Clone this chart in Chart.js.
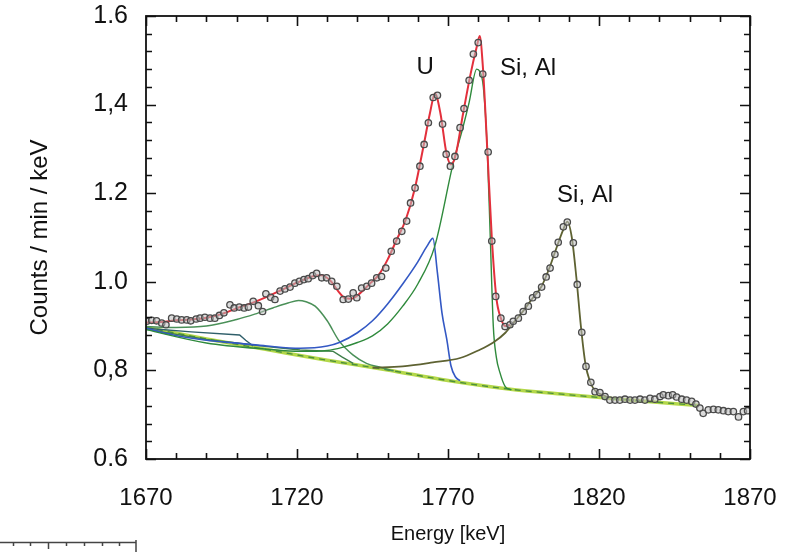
<!DOCTYPE html>
<html>
<head>
<meta charset="utf-8">
<script src="https://cdn.jsdelivr.net/npm/chart.js@4.4.1/dist/chart.umd.min.js"></script>
<style>
  html, body { margin: 0; padding: 0; background: #fff; }
  #wrap { position: relative; width: 798px; height: 552px; }
  #c { position: absolute; left: 0; top: 0; }
  #ruler { position: absolute; left: 0; top: 536px; }
</style>
</head>
<body>
<div id="wrap">
  <canvas id="c" width="798" height="552"></canvas>
  <canvas id="ruler" width="140" height="16"></canvas>
</div>
<script>
// ---------------- data ----------------
const energy = [1670.2,1671.9,1673.5,1675.2,1676.6,1678.5,1680.2,1681.8,1683.5,1684.8,1686.6,1687.9,1689.5,1691.2,1692.8,1694.3,1695.8,1697.8,1699.2,1700.9,1702.5,1703.9,1705.5,1707.2,1708.6,1709.7,1711.3,1712.7,1714.4,1716.0,1717.7,1719.3,1720.8,1722.3,1723.7,1725.2,1726.5,1728.2,1729.8,1731.5,1733.2,1735.3,1737.0,1738.6,1739.8,1741.4,1743.1,1744.7,1746.4,1748.0,1749.4,1751.2,1753.0,1754.7,1756.3,1757.6,1759.1,1760.7,1762.1,1763.5,1765.1,1766.5,1768.2,1769.4,1770.8,1772.3,1774.0,1775.3,1777.0,1778.4,1780.0,1781.5,1783.3,1784.5,1785.8,1787.5,1788.9,1790.5,1791.6,1793.3,1794.9,1796.6,1798.0,1799.4,1801.0,1802.5,1803.8,1805.4,1806.5,1808.2,1809.5,1811.5,1812.8,1814.3,1815.7,1817.3,1818.7,1820.3,1822.0,1823.6,1825.3,1826.9,1828.6,1830.3,1831.9,1833.6,1835.2,1836.9,1838.5,1840.2,1841.3,1843.0,1844.4,1845.7,1847.4,1849.0,1850.7,1852.1,1853.4,1854.5,1856.2,1857.9,1859.5,1861.2,1862.8,1864.5,1866.2,1867.8,1869.2];
const counts = [0.911,0.913,0.912,0.907,0.903,0.918,0.916,0.914,0.914,0.912,0.916,0.918,0.920,0.918,0.918,0.924,0.930,0.948,0.941,0.943,0.941,0.943,0.956,0.946,0.933,0.973,0.965,0.960,0.979,0.984,0.988,0.997,1.001,1.005,1.007,1.014,1.019,1.009,1.009,1.001,0.990,0.960,0.961,0.975,0.964,0.986,0.990,0.997,1.009,1.012,1.031,1.069,1.092,1.114,1.137,1.178,1.212,1.261,1.310,1.359,1.416,1.421,1.356,1.288,1.261,1.283,1.348,1.391,1.455,1.514,1.540,1.469,1.293,1.092,0.967,0.918,0.899,0.903,0.911,0.918,0.933,0.945,0.964,0.971,0.988,1.011,1.031,1.062,1.089,1.124,1.135,1.088,0.994,0.886,0.809,0.773,0.752,0.750,0.741,0.733,0.733,0.733,0.735,0.733,0.733,0.735,0.733,0.737,0.735,0.741,0.745,0.743,0.745,0.740,0.735,0.733,0.730,0.724,0.715,0.703,0.711,0.712,0.711,0.709,0.707,0.707,0.695,0.707,0.709];

// total fit (red)
const totalE = [1670,1675,1680,1685,1690,1695,1700,1705,1710,1715,1720,1725,1728,1731,1733.5,1736,1738,1741,1744,1747,1750,1753,1756,1759,1762,1764,1765.7,1767.5,1769.5,1771,1772.5,1775,1777.5,1779.5,1780.5,1781.5,1783,1784.5,1786,1787.5,1789,1790.5];
const totalV = [0.908,0.909,0.913,0.915,0.919,0.927,0.940,0.952,0.966,0.982,0.998,1.012,1.015,1.003,0.980,0.963,0.962,0.975,0.995,1.015,1.050,1.095,1.140,1.210,1.310,1.380,1.425,1.380,1.290,1.265,1.285,1.380,1.470,1.530,1.555,1.490,1.300,1.100,0.965,0.918,0.900,0.903];

// background (yellow-green)
const baselineE = [1670,1690,1710,1730,1750,1770,1790,1810,1830,1853];
const baselineV = [0.897,0.871,0.847,0.823,0.801,0.777,0.758,0.745,0.733,0.721];

// component at 1720 keV (green)
const peak1720E = [1670,1680,1690,1700,1706,1712,1717,1720.5,1723,1726,1730,1734,1738.5,1743,1747.5,1752];
const peak1720V = [0.899,0.897,0.900,0.915,0.927,0.941,0.952,0.958,0.955,0.945,0.912,0.866,0.835,0.816,0.807,0.799];

// step under the low-energy part (dark blue-green)
const stepAE = [1670,1685,1701,1703,1705.5];
const stepAV = [0.895,0.887,0.880,0.868,0.855];

// step under the 1720 keV region (green)
const stepBE = [1670,1690,1710,1721,1732,1735,1738.6];
const stepBV = [0.893,0.870,0.854,0.846,0.843,0.830,0.816];

// U component at 1765 keV (blue)
const peakUE = [1670,1679,1690,1701,1710,1721,1730,1734,1740,1745,1750,1755,1760,1763,1765,1766.5,1768,1769.6,1771,1772.5,1774];
const peakUV = [0.895,0.880,0.868,0.861,0.855,0.850,0.855,0.863,0.885,0.912,0.950,0.995,1.045,1.080,1.098,1.020,0.930,0.870,0.810,0.785,0.777];

// Si, Al component at 1780 keV (green)
const peak1780E = [1670,1690,1710,1721,1730,1735,1740,1745,1750,1755,1760,1765.6,1771.8,1775,1777,1779.5,1780.5,1781.7,1783,1784,1785,1786,1787.2,1788.9,1791];
const peak1780V = [0.892,0.862,0.848,0.843,0.845,0.852,0.863,0.878,0.905,0.945,0.995,1.080,1.270,1.350,1.405,1.480,1.475,1.440,1.300,1.100,0.900,0.830,0.795,0.764,0.756];

// Si, Al component at 1808 keV (olive)
const peak1808E = [1745,1755,1765,1774,1780,1785,1789,1792,1795,1798,1801,1803.5,1806,1808,1809.5,1811,1812.5,1814,1815.5,1817,1819,1821,1823];
const peak1808V = [0.806,0.809,0.818,0.828,0.845,0.863,0.885,0.910,0.935,0.963,0.990,1.030,1.078,1.115,1.136,1.100,1.010,0.900,0.815,0.775,0.752,0.745,0.740];

// axis ticks and annotation texts
const xTickValues = [1670,1720,1770,1820,1870];
const xTickLabels = ["1670","1720","1770","1820","1870"];
const yTickValues = [0.6,0.8,1.0,1.2,1.4,1.6];
const yTickLabels = ["0.6","0,8","1.0","1.2","1,4","1.6"];
const peakLabels = ["U","Si, Al","Si, Al"];
const peakLabelE = [1762.4,1796.5,1815.4];
const peakLabelV = [1.485,1.482,1.195];

// -----------------------------------------------------------------------
function pts(xs, ys) { return xs.map((x, i) => ({x: x, y: ys[i]})); }
const FONT = "'Liberation Sans', Arial, sans-serif";

function lineDs(label, xs, ys, color, width, extra) {
  return Object.assign({
    label, data: pts(xs, ys), showLine: true, borderColor: color,
    backgroundColor: color, borderWidth: width, pointRadius: 0,
    cubicInterpolationMode: 'monotone', fill: false
  }, extra || {});
}

const frameTicks = {
  id: 'frameTicks',
  afterDraw(chart) {
    const {ctx, chartArea: a, scales: {x, y}} = chart;
    ctx.save();
    ctx.strokeStyle = '#111';
    ctx.lineWidth = 1.6;
    ctx.beginPath();
    for (let k = 0; k <= 20; k++) {
      const e = x.min + k * 10;
      const px = Math.round(x.getPixelForValue(e)) + 0.5;
      const len = (k % 5 === 0) ? 10 : 6;
      ctx.moveTo(px, a.bottom); ctx.lineTo(px, a.bottom - len);
      ctx.moveTo(px, a.top); ctx.lineTo(px, a.top + len);
    }
    for (let k = 0; k <= 25; k++) {
      const v = y.min + k * 0.04;
      const py = Math.round(y.getPixelForValue(v)) + 0.5;
      const len = (k % 5 === 0) ? 10 : 6;
      ctx.moveTo(a.left, py); ctx.lineTo(a.left + len, py);
      ctx.moveTo(a.right, py); ctx.lineTo(a.right - len, py);
    }
    ctx.stroke();
    ctx.lineWidth = 1.8;
    ctx.strokeRect(a.left, a.top, a.right - a.left, a.bottom - a.top);
    // peak annotations
    ctx.fillStyle = '#111';
    ctx.font = '24px ' + FONT;
    ctx.textAlign = 'center';
    ctx.textBaseline = 'middle';
    peakLabels.forEach((t, i) => {
      ctx.fillText(t, x.getPixelForValue(peakLabelE[i]), y.getPixelForValue(peakLabelV[i]));
    });
    ctx.restore();
  }
};

new Chart(document.getElementById('c'), {
  type: 'scatter',
  data: {
    datasets: [
      { label: 'data', data: pts(energy, counts), showLine: false,
        pointRadius: 3.2, pointBorderWidth: 1.3, pointBorderColor: '#4a4a4a',
        pointBackgroundColor: 'rgba(190,190,190,0.55)' },
      lineDs('total', totalE, totalV, '#e3303c', 2),
      lineDs('1808', peak1808E, peak1808V, '#5e6232', 1.8),
      lineDs('1780', peak1780E, peak1780V, '#2f8a3c', 1.4),
      lineDs('U', peakUE, peakUV, '#3358c4', 1.6),
      lineDs('stepB', stepBE, stepBV, '#3f7f4a', 1.4, {cubicInterpolationMode: 'default', tension: 0}),
      lineDs('stepA', stepAE, stepAV, '#2f5f6a', 1.4, {cubicInterpolationMode: 'default', tension: 0}),
      lineDs('1720', peak1720E, peak1720V, '#4a9058', 1.5),
      lineDs('bgDash', baselineE, baselineV, '#4c8f3c', 1.4, {borderDash: [6, 5]}),
      lineDs('bg', baselineE, baselineV, '#b4d84a', 3.5)
    ]
  },
  options: {
    responsive: false,
    animation: false,
    devicePixelRatio: 1,
    layout: { padding: { top: 16, right: 48, bottom: 0, left: 0 } },
    plugins: { legend: { display: false }, tooltip: { enabled: false } },
    scales: {
      x: {
        type: 'linear', min: 1670, max: 1870,
        afterFit(s) { s.height = 93; s.paddingLeft = 0; s.paddingRight = 0; },
        afterBuildTicks(s) { s.ticks = xTickValues.map(v => ({value: v})); },
        grid: { display: false, drawTicks: false },
        border: { display: false },
        ticks: {
          padding: 25, color: '#111', maxRotation: 0, autoSkip: false,
          font: { family: FONT, size: 24 },
          callback: (v) => { const i = xTickValues.indexOf(v); return i >= 0 ? xTickLabels[i] : ''; }
        },
        title: { display: true, text: 'Energy [keV]', color: '#111',
                 font: { family: FONT, size: 20 }, padding: { top: 0, bottom: 6 } }
      },
      y: {
        type: 'linear', min: 0.6, max: 1.6,
        afterFit(s) { s.width = 146; s.paddingTop = 0; s.paddingBottom = 0; },
        afterBuildTicks(s) { s.ticks = yTickValues.map(v => ({value: v})); },
        grid: { display: false, drawTicks: false },
        border: { display: false },
        ticks: {
          padding: 18, color: '#111',
          font: { family: FONT, size: 25 },
          callback: (v) => {
            let i = -1;
            yTickValues.forEach((t, k) => { if (Math.abs(t - v) < 1e-6) i = k; });
            return i >= 0 ? yTickLabels[i] : '';
          }
        },
        title: { display: true, text: 'Counts / min / keV', color: '#111',
                 font: { family: FONT, size: 24 }, padding: { top: 26, bottom: 0 } }
      }
    }
  },
  plugins: [frameTicks]
});

// small cropped ruler fragment at the bottom-left corner of the picture
(function () {
  const r = document.getElementById('ruler').getContext('2d');
  r.strokeStyle = '#444';
  r.lineWidth = 1.5;
  r.beginPath();
  r.moveTo(0, 6.5); r.lineTo(136, 6.5);
  [13, 30, 66, 84, 102, 119].forEach(px => { r.moveTo(px + 0.5, 6.5); r.lineTo(px + 0.5, 10); });
  r.moveTo(48.5, 6.5); r.lineTo(48.5, 13);
  r.moveTo(136, 4); r.lineTo(136, 16);
  r.stroke();
})();
</script>
</body>
</html>
